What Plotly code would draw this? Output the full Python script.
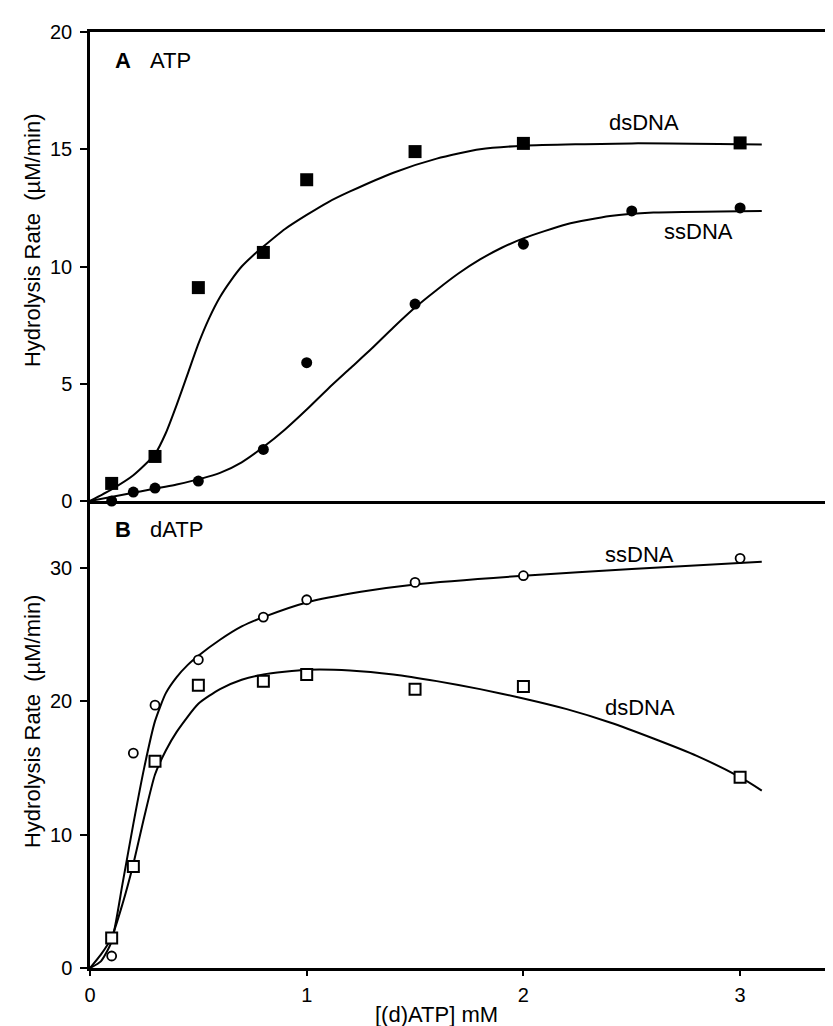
import plotly.graph_objects as go

# ---------------- data ----------------
# Panel A (ATP) measured points
atp_x = [0.1, 0.2, 0.3, 0.5, 0.8, 1.0, 1.5, 2.0, 2.5, 3.0]
atp_ds_x = [0.1, 0.3, 0.5, 0.8, 1.0, 1.5, 2.0, 3.0]
atp_ds_y = [0.75, 1.9, 9.1, 10.6, 13.7, 14.9, 15.25, 15.27]
atp_ss_y = [0.0, 0.38, 0.55, 0.85, 2.2, 5.9, 8.4, 10.95, 12.37, 12.5]

# Panel A fitted curves
atp_ds_fit_x = [0, 0.1, 0.2, 0.3, 0.35, 0.4, 0.45, 0.5, 0.55, 0.6, 0.65, 0.7, 0.75, 0.8, 0.9, 1.0,
                1.1, 1.2, 1.4, 1.6, 1.8, 2.0, 2.5, 3.1]
atp_ds_fit_y = [0, 0.5, 1.1, 2.0, 2.9, 4.1, 5.4, 6.7, 7.8, 8.7, 9.4, 10.0, 10.45, 10.85, 11.6, 12.2,
                12.75, 13.2, 14.0, 14.6, 15.0, 15.15, 15.25, 15.2]
atp_ss_fit_x = [0, 0.2, 0.4, 0.6, 0.7, 0.8, 0.9, 1.0, 1.1, 1.2, 1.3, 1.4, 1.5, 1.6, 1.7,
                1.8, 1.9, 2.0, 2.2, 2.4, 2.6, 3.1]
atp_ss_fit_y = [0, 0.35, 0.7, 1.2, 1.65, 2.3, 3.05, 3.9, 4.8, 5.65, 6.5, 7.4, 8.25, 9.0, 9.7,
                10.3, 10.8, 11.2, 11.8, 12.15, 12.3, 12.37]

# Panel B (dATP) measured points
datp_ss_x = [0.1, 0.2, 0.3, 0.5, 0.8, 1.0, 1.5, 2.0, 3.0]
datp_ss_y = [0.9, 16.1, 19.7, 23.1, 26.3, 27.6, 28.9, 29.4, 30.7]
datp_ds_x = [0.1, 0.2, 0.3, 0.5, 0.8, 1.0, 1.5, 2.0, 3.0]
datp_ds_y = [2.25, 7.6, 15.5, 21.2, 21.5, 22.0, 20.9, 21.1, 14.3]

# Panel B fitted curves
datp_ss_fit_x = [0, 0.05, 0.1, 0.15, 0.2, 0.25, 0.3, 0.35, 0.4, 0.45, 0.5, 0.6, 0.7, 0.8,
                 1.0, 1.25, 1.5, 2.0, 2.5, 3.1]
datp_ss_fit_y = [0, 0.5, 2.0, 6.3, 10.8, 15.0, 18.5, 20.6, 21.8, 22.7, 23.4, 24.6, 25.6, 26.3,
                 27.4, 28.2, 28.75, 29.4, 29.9, 30.45]
datp_ds_fit_x = [0, 0.05, 0.1, 0.15, 0.2, 0.25, 0.3, 0.35, 0.4, 0.5, 0.6, 0.7, 0.8, 1.0,
                 1.2, 1.4, 1.6, 1.8, 2.0, 2.2, 2.4, 2.6, 2.8, 3.0, 3.1]
datp_ds_fit_y = [0, 1.0, 2.3, 4.8, 7.8, 11.3, 14.5, 16.3, 17.7, 19.8, 20.9, 21.6, 22.0, 22.35,
                 22.3, 22.0, 21.5, 20.9, 20.2, 19.4, 18.4, 17.2, 15.9, 14.3, 13.3]

x_ticks = [0, 1, 2, 3]
top_y_ticks = [0, 5, 10, 15, 20]
bot_y_ticks = [0, 10, 20, 30]

FONT = "Liberation Sans, Arial, sans-serif"
NARROW = "Liberation Sans Narrow, Arial Narrow, Liberation Sans, sans-serif"
BLACK = "black"

fig = go.Figure()

def curve(x, y, xa, ya):
    fig.add_trace(go.Scatter(x=x, y=y, mode="lines", xaxis=xa, yaxis=ya,
                             line=dict(color=BLACK, width=2, shape="spline", smoothing=0.6),
                             showlegend=False, hoverinfo="skip"))

def pts(x, y, xa, ya, symbol, size, lw=0):
    fig.add_trace(go.Scatter(x=x, y=y, mode="markers", xaxis=xa, yaxis=ya,
                             marker=dict(symbol=symbol, size=size, color=BLACK if lw == 0 else "white",
                                         line=dict(color=BLACK, width=lw)),
                             cliponaxis=False, showlegend=False))

# Panel A (top: x2 / y)
curve(atp_ds_fit_x, atp_ds_fit_y, "x2", "y")
curve(atp_ss_fit_x, atp_ss_fit_y, "x2", "y")
pts(atp_ds_x, atp_ds_y, "x2", "y", "square", 13)
pts(atp_x, atp_ss_y, "x2", "y", "circle", 11)

# Panel B (bottom: x / y2)
curve(datp_ss_fit_x, datp_ss_fit_y, "x", "y2")
curve(datp_ds_fit_x, datp_ds_fit_y, "x", "y2")
pts(datp_ss_x, datp_ss_y, "x", "y2", "circle", 9, 1.8)
pts(datp_ds_x, datp_ds_y, "x", "y2", "square", 11, 2)

split = (960 - 493) / 936
xr = [0, 751 / 216.7]

axis_common = dict(showgrid=False, zeroline=False, showline=True, linecolor=BLACK, linewidth=2.5,
                   tickcolor=BLACK, tickwidth=2)

fig.update_layout(
    width=833, height=1026,
    margin=dict(l=82, r=0, t=24, b=66),
    paper_bgcolor="white", plot_bgcolor="white",
    font=dict(family=FONT, color=BLACK),
    xaxis=dict(domain=[0, 1], anchor="y2", range=xr, tickvals=x_ticks, ticks="outside", ticklen=5,
               ticklabelstandoff=2, tickfont=dict(family=NARROW, size=20, color=BLACK), **axis_common),
    xaxis2=dict(domain=[0, 1], anchor="y", range=xr, matches="x", showticklabels=False, ticks="",
                mirror=True, **axis_common),
    yaxis=dict(domain=[split, 1], anchor="x2", range=[0, 20], tickvals=top_y_ticks, ticks="outside",
               ticklen=7, ticklabelstandoff=4, tickfont=dict(family=FONT, size=20, color=BLACK),
               **axis_common),
    yaxis2=dict(domain=[0, split], anchor="x", range=[0, 35], tickvals=bot_y_ticks, ticks="outside",
                ticklen=7, ticklabelstandoff=4, tickfont=dict(family=FONT, size=20, color=BLACK),
                **axis_common),
)

ann = []
def label(text, x, y, xref, yref, size=22, xanchor="center", family=FONT, **kw):
    ann.append(dict(text=text, x=x, y=y, xref=xref, yref=yref, showarrow=False,
                    xanchor=xanchor, yanchor="middle",
                    font=dict(family=family, size=size, color=BLACK), **kw))

# panel tags
label("<b>A</b>", 0.106, 18.8, "x2", "y", xanchor="left")
label("ATP", 0.268, 18.8, "x2", "y", xanchor="left")
label("<b>B</b>", 0.106, 32.86, "x", "y2", xanchor="left")
label("dATP", 0.268, 32.86, "x", "y2", xanchor="left")
# curve labels
label("dsDNA", 2.558, 16.12, "x2", "y")
label("ssDNA", 2.81, 11.51, "x2", "y")
label("ssDNA", 2.536, 30.98, "x", "y2")
label("dsDNA", 2.538, 19.5, "x", "y2")
# axis titles
label("Hydrolysis Rate  (µM/min)", -0.0772, 0.7767, "paper", "paper", size=22, textangle=-90)
label("Hydrolysis Rate  (µM/min)", -0.0772, 0.2628, "paper", "paper", size=22, textangle=-90)
label("[(d)ATP] mM", 1.6, -0.0502, "x", "paper", size=22, family=NARROW)

fig.update_layout(annotations=ann)
fig.write_html("out.html")
